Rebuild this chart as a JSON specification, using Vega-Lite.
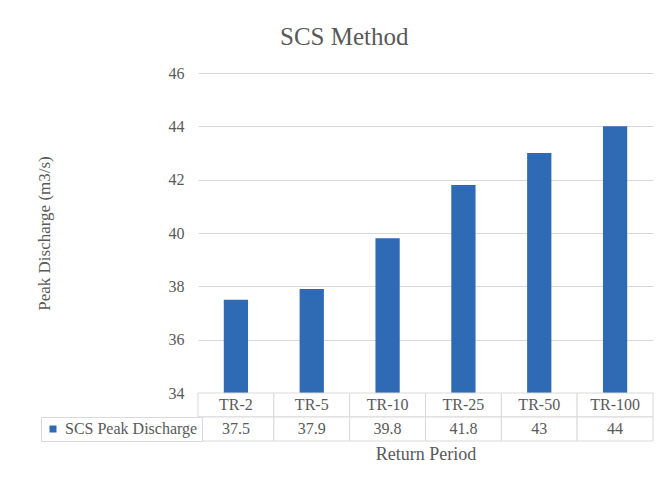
{
  "$schema": "https://vega.github.io/schema/vega-lite/v6.json",
  "padding": {"left": 35, "top": 25, "right": 5, "bottom": 5},
  "background": "white",
  "title": {"text": "SCS Method", "anchor": "middle", "font": "Liberation Serif", "fontSize": 25, "fontWeight": "normal", "color": "#595959", "offset": 15},
  "data": {"values": [
    {"Return Period": "TR-2", "Discharge": 37.5, "Series": "SCS Peak Discharge"},
    {"Return Period": "TR-5", "Discharge": 37.9, "Series": "SCS Peak Discharge"},
    {"Return Period": "TR-10", "Discharge": 39.8, "Series": "SCS Peak Discharge"},
    {"Return Period": "TR-25", "Discharge": 41.8, "Series": "SCS Peak Discharge"},
    {"Return Period": "TR-50", "Discharge": 43, "Series": "SCS Peak Discharge"},
    {"Return Period": "TR-100", "Discharge": 44, "Series": "SCS Peak Discharge"}
  ]},
  "bounds": "flush",
  "spacing": 0,
  "vconcat": [
    {
      "width": 455,
      "height": 320,
      "mark": {"type": "bar", "width": {"band": 0.32}, "color": "#2F6AB5", "clip": true},
      "encoding": {
        "x": {"field": "Return Period", "type": "nominal", "sort": null, "scale": {"paddingInner": 0, "paddingOuter": 0}, "axis": null},
        "y": {"field": "Discharge", "type": "quantitative", "scale": {"domain": [34, 46], "nice": false, "zero": false},
          "axis": {"values": [34, 36, 38, 40, 42, 44, 46], "title": "Peak Discharge (m3/s)", "grid": true, "gridColor": "#d9d9d9", "domain": false, "ticks": false,
            "labelPadding": 14, "titlePadding": 115, "labelFont": "Liberation Serif", "labelFontSize": 16, "labelColor": "#595959",
            "titleFont": "Liberation Serif", "titleFontSize": 17, "titleFontWeight": "normal", "titleColor": "#595959"}}
      }
    },
    {
      "width": 455,
      "height": 48,
      "encoding": {
        "x": {"field": "Return Period", "type": "nominal", "sort": null, "scale": {"paddingInner": 0, "paddingOuter": 0},
          "axis": {"title": "Return Period", "labels": false, "ticks": false, "domain": false, "titlePadding": 4,
            "titleFont": "Liberation Serif", "titleFontSize": 18, "titleFontWeight": "normal", "titleColor": "#595959"}}
      },
      "layer": [
        {"mark": {"type": "rect", "fill": "white", "stroke": "#d9d9d9", "strokeWidth": 1},
         "encoding": {"y": {"datum": "header", "type": "nominal", "scale": {"domain": ["header", "values"], "paddingInner": 0, "paddingOuter": 0}, "axis": null}}},
        {"mark": {"type": "rect", "fill": "white", "stroke": "#d9d9d9", "strokeWidth": 1},
         "encoding": {"y": {"datum": "values", "type": "nominal"}}},
        {"mark": {"type": "text", "font": "Liberation Serif", "fontSize": 16, "color": "#595959"},
         "encoding": {"y": {"datum": "header", "type": "nominal"}, "text": {"field": "Return Period", "type": "nominal"}}},
        {"mark": {"type": "text", "font": "Liberation Serif", "fontSize": 16, "color": "#595959"},
         "encoding": {"y": {"datum": "values", "type": "nominal"}, "text": {"field": "Discharge", "type": "quantitative"}}},
        {"mark": {"type": "square", "opacity": 0},
         "encoding": {"y": {"datum": "values", "type": "nominal"},
           "color": {"field": "Series", "type": "nominal", "scale": {"range": ["#2F6AB5"]},
             "legend": {"orient": "none", "legendX": -157, "legendY": 24, "title": null, "symbolType": "square", "symbolSize": 49, "symbolOpacity": 1, "symbolStrokeWidth": 0,
               "labelFont": "Liberation Serif", "labelFontSize": 16, "labelColor": "#595959", "labelOffset": 4, "labelLimit": 300,
               "strokeColor": "#d9d9d9", "fillColor": "white", "padding": 4}}}}
      ]
    }
  ],
  "resolve": {"scale": {"x": "independent", "y": "independent"}, "legend": {"color": "independent"}},
  "config": {"view": {"stroke": null}, "font": "Liberation Serif"}
}
